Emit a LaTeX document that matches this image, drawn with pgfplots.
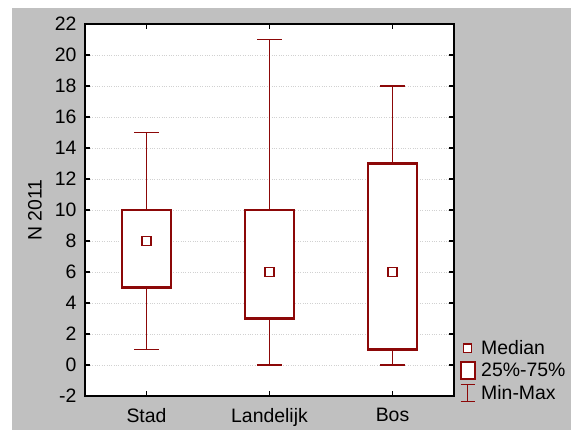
\documentclass[border=0pt]{standalone}
\usepackage{fontspec}
\setmainfont{Liberation Sans}
\usepackage{pgfplots}
\pgfplotsset{compat=1.18}
\usepgfplotslibrary{statistics}
\definecolor{dred}{RGB}{140,8,8}
\definecolor{panel}{RGB}{192,192,192}

\begin{document}
\begin{tikzpicture}
% page and grey panel
\path[use as bounding box, fill=white] (-85bp,-34bp) rectangle (486bp,396bp);
\fill[panel] (-73bp,-34bp) rectangle (486bp,388bp);
\begin{axis}[
    scale only axis,
    width=369bp, height=372bp,
    xmin=-0.5, xmax=2.5,
    ymin=-2, ymax=22,
    ytick={-2,0,...,22},
    xtick={0,1,2},
    xticklabels={Stad,Landelijk,Bos},
    tick align=inside,
    tick pos=both,
    major tick length=5bp,
    axis line style={line width=1.3bp},
    tick style={black, line width=1.1bp},
    ymajorgrids,
    grid style={dotted, black!18, line width=0.7bp},
    axis background/.style={fill=white},
    /pgf/number format/assume math mode=true,
    tick label style={font=\fontsize{19.5}{22}\selectfont},
    xticklabel style={yshift=-9bp},
    yticklabel style={xshift=-5bp},
    ylabel={N 2011},
    ylabel style={font=\fontsize{19.5}{22}\selectfont, at={(axis description cs:-0.1355,0.5)}, anchor=center},
    legend style={draw=none, fill=none, at={(axis description cs:1.015,-0.018)}, anchor=south west,
        font=\fontsize{19.5}{22}\selectfont, row sep=3bp, inner sep=0pt,
        cells={anchor=west}},
    legend cell align=left,
]
\addlegendimage{legend image code/.code={\path[draw=none] (0bp,0bp) -- (19bp,0bp); \draw[dred, line width=1.3bp, fill=white] (3.5bp,-4.2bp) rectangle (11.5bp,4.2bp);}}
\addlegendentry{Median}
\addlegendimage{legend image code/.code={\path[draw=none] (0bp,0bp) -- (19bp,0bp); \draw[dred, line width=2bp, fill=white] (0.5bp,-8.5bp) rectangle (14.5bp,8.5bp);}}
\addlegendentry{25\%-75\%}
\addlegendimage{legend image code/.code={\path[draw=none] (0bp,0bp) -- (19bp,0bp); \draw[dred, line width=1.1bp] (7.5bp,-8.5bp) -- (7.5bp,8.5bp) (0.5bp,-8.5bp) -- (14.5bp,-8.5bp) (0.5bp,8.5bp) -- (14.5bp,8.5bp);}}
\addlegendentry{Min-Max}

\pgfplotsset{
  boxstyle/.style={forget plot, dred,
    boxplot/draw direction=y,
    boxplot/box extend=0.4,
    boxplot/whisker extend=0.2,
    boxplot/every box/.style={draw=dred, line width=2.2bp, fill=white},
    boxplot/every whisker/.style={draw=dred, line width=1.2bp},
    boxplot/every median/.style={draw=none}}
}
\addplot[boxstyle, boxplot prepared={draw position=0, lower whisker=1, lower quartile=5, median=8, upper quartile=10, upper whisker=15}] coordinates {};
\addplot[boxstyle, boxplot prepared={draw position=1, lower whisker=0, lower quartile=3, median=6, upper quartile=10, upper whisker=21}] coordinates {};
\addplot[boxstyle, boxplot prepared={draw position=2, lower whisker=0, lower quartile=1, median=6, upper quartile=13, upper whisker=18}] coordinates {};

% medians
\addplot[forget plot, only marks, mark=square*, mark size=4.5bp, dred,
    mark options={line width=1.3bp, fill=white}] coordinates {(0,8) (1,6) (2,6)};
\end{axis}
\end{tikzpicture}
\end{document}
